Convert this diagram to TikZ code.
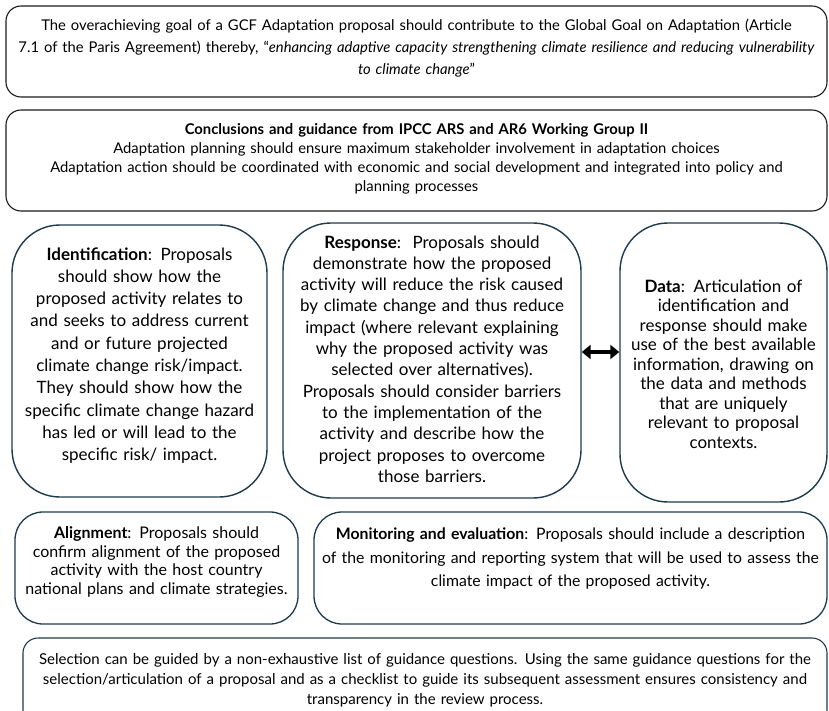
\documentclass[tikz,border=0pt]{standalone}
\usepackage{fontspec}
\setmainfont{Lato}
\usetikzlibrary{arrows.meta}
\definecolor{navy}{HTML}{1F3A4B}
\definecolor{dk}{HTML}{1A1A1A}
\begin{document}
\begin{tikzpicture}[x=1pt,y=-1pt,
  topbox/.style={draw=dk, line width=1.1pt, rounded corners=15pt, inner sep=0pt},
  rowbox/.style={draw=navy, line width=1.4pt, rounded corners=48pt, inner sep=0pt},
  midbox/.style={draw=navy, line width=1.3pt, rounded corners=28pt, inner sep=0pt},
  txt/.style={align=center, inner sep=0pt, text=black},
  topfont/.style={font=\fontsize{14.8}{22}\selectfont},
  rowfont/.style={font=\fontsize{17}{22.3}\selectfont},
  dblarrow/.style={line width=4pt, {Triangle[length=9pt,width=14pt]}-{Triangle[length=9pt,width=14pt]}}
]
\useasboundingbox (0,0) rectangle (829,711);
\clip (0,0) rectangle (829,711);

% boxes
\node[topbox, minimum width=821pt, minimum height=91pt] (goal) at (416.5,51.5) {};
\node[topbox, minimum width=821pt, minimum height=101pt] (ipcc) at (416.5,160.5) {};
\node[rowbox, minimum width=255pt, minimum height=272pt] (ident) at (139.5,361) {};
\node[rowbox, minimum width=298pt, minimum height=275pt] (resp) at (432,360.5) {};
\node[rowbox, minimum width=207pt, minimum height=279pt] (data) at (723.5,362.5) {};
\node[midbox, minimum width=283pt, minimum height=112pt] (align) at (156.5,568) {};
\node[midbox, minimum width=513pt, minimum height=112pt] (mon) at (570.5,568) {};
\node[topbox, draw=navy, minimum width=804pt, minimum height=87pt] (sel) at (425,681.5) {};

% texts
\node[txt, topfont, text width=825pt] (goal-t) at (416.5,48) {The overachieving goal of a GCF Adaptation proposal should contribute to the Global Goal on Adaptation (Article\\
7.1 of the Paris Agreement) thereby, “\textit{enhancing adaptive capacity strengthening climate resilience and reducing vulnerability}\\
\textit{to climate change}”};

\node[txt, font=\fontsize{14.8}{19}\selectfont, text width=820pt] (ipcc-t) at (416.5,159) {\textbf{Conclusions and guidance from IPCC ARS and AR6 Working Group II}\\
Adaptation planning should ensure maximum stakeholder involvement in adaptation choices\\
Adaptation action should be coordinated with economic and social development and integrated into policy and\\
planning processes};

\node[txt, rowfont, text width=300pt] (ident-t) at (139.5,355.5) {\textbf{Identification}: Proposals\\
should show how the\\
proposed activity relates to\\
and seeks to address current\\
and or future projected\\
climate change risk/impact.\\
They should show how the\\
specific climate change hazard\\
has led or will lead to the\\
specific risk/ impact.};

\node[txt, font=\fontsize{17}{21.3}\selectfont, text width=320pt] (resp-t) at (432,359) {\textbf{Response}:\ \ Proposals should\\
demonstrate how the proposed\\
activity will reduce the risk caused\\
by climate change and thus reduce\\
impact (where relevant explaining\\
why the proposed activity was\\
selected over alternatives).\\
Proposals should consider barriers\\
to the implementation of the\\
activity and describe how the\\
project proposes to overcome\\
those barriers.};

\node[txt, font=\fontsize{17}{19.5}\selectfont, text width=240pt] (data-t) at (723.5,364) {\textbf{Data}: Articulation of\\
identification and\\
response should make\\
use of the best available\\
information, drawing on\\
the data and methods\\
that are uniquely\\
relevant to proposal\\
contexts.};

\node[txt, font=\fontsize{16}{18.5}\selectfont, text width=300pt] (align-t) at (156.5,562) {\textbf{Alignment}: Proposals should\\
confirm alignment of the proposed\\
activity with the host country\\
national plans and climate strategies.};

\node[txt, font=\fontsize{15.8}{23.5}\selectfont, text width=525pt] (mon-t) at (570.5,558.5) {\textbf{Monitoring and evaluation}: Proposals should include a description\\
of the monitoring and reporting system that will be used to assess the\\
climate impact of the proposed activity.};

\node[txt, font=\fontsize{15}{20}\selectfont, text width=820pt] (sel-t) at (425,680) {Selection can be guided by a non-exhaustive list of guidance questions. Using the same guidance questions for the\\
selection/articulation of a proposal and as a checklist to guide its subsequent assessment ensures consistency and\\
transparency in the review process.};

% arrow
\coordinate (ay) at (0,352);
\draw[dblarrow] (resp.east |- ay) -- (data.west |- ay);
\end{tikzpicture}
\end{document}
